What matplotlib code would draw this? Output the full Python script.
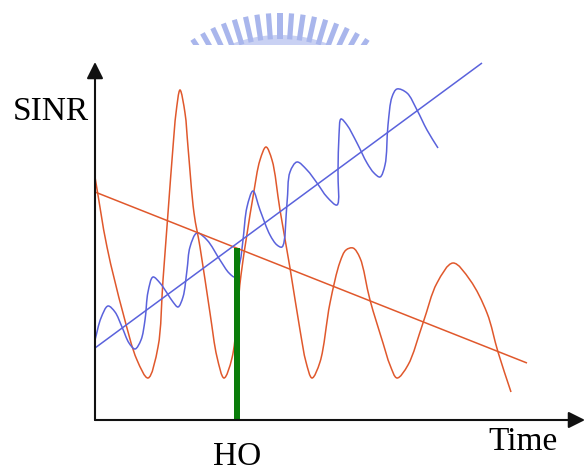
import numpy as np
import matplotlib
matplotlib.use("Agg")
import matplotlib.pyplot as plt
from matplotlib.path import Path
from matplotlib.patches import PathPatch, Rectangle, Wedge

# ---------------- data (time / SINR in chart units) -------------
red_wave_t = [0, 12, 28, 42, 53, 63, 68, 73, 78, 81, 85, 90, 93, 99, 105, 115, 122, 129,
              137, 146, 158, 165, 171, 177, 185, 195, 205, 211, 217, 225, 235, 245, 251,
              258, 265, 275, 288, 295, 302, 313, 328, 342, 358, 375, 392, 403, 416]
red_wave_s = [243, 173, 107, 60, 42, 73, 140, 207, 273, 307, 330, 307, 273, 207, 173, 107, 63, 42,
              62, 145, 223, 260, 273, 260, 210, 152, 90, 58, 42, 58, 117, 158, 170,
              172, 162, 120, 77, 55, 42, 55, 97, 137, 157, 140, 107, 68, 28]

blue_wave_t = [0, 6, 13, 20, 27, 34, 40, 46, 50, 53, 58, 65, 72, 78, 83, 88, 92, 95, 102,
               112, 125, 134, 140, 145, 148, 152, 158, 165, 175, 182, 187, 192, 195, 202,
               212, 222, 232, 242, 243, 244, 246, 252, 262, 272, 279, 285, 290, 293, 297,
               302, 312, 322, 332, 343]
blue_wave_s = [80, 102, 114, 108, 93, 77, 71, 80, 100, 128, 143, 137, 127, 118, 113, 123, 150, 173, 187,
               180, 160, 147, 143, 158, 180, 213, 229, 210, 185, 175, 173, 217, 248, 258,
               250, 237, 223, 215, 248, 285, 301, 295, 277, 257, 247, 243, 255, 295, 323,
               331, 327, 310, 290, 272]

red_trend_t = [0, 432]
red_trend_s = [228, 57]
blue_trend_t = [0, 387]
blue_trend_s = [72, 357]

ho_time = 142
ho_level = 172

RED = "#e0582c"
BLUE = "#5a62dc"
GREEN = "#0a7d0a"


def smooth_path(xs, ys, alpha=0.5):
    """Centripetal Catmull-Rom through the read points, drawn as cubic Bezier segments."""
    P = np.column_stack([xs, ys]).astype(float)
    P = np.vstack([2 * P[0] - P[1], P, 2 * P[-1] - P[-2]])
    verts = [P[1]]
    codes = [Path.MOVETO]
    for i in range(1, len(P) - 2):
        p0, p1, p2, p3 = P[i - 1], P[i], P[i + 1], P[i + 2]
        d01 = max(np.linalg.norm(p1 - p0) ** alpha, 1e-6)
        d12 = max(np.linalg.norm(p2 - p1) ** alpha, 1e-6)
        d23 = max(np.linalg.norm(p3 - p2) ** alpha, 1e-6)
        m1 = d12 * ((p1 - p0) / d01 - (p2 - p0) / (d01 + d12) + (p2 - p1) / d12)
        m2 = d12 * ((p2 - p1) / d12 - (p3 - p1) / (d12 + d23) + (p3 - p2) / d23)
        verts += [p1 + m1 / 3.0, p2 - m2 / 3.0, p2]
        codes += [Path.CURVE4] * 3
    return Path(verts, codes)


W, H = 585, 471
fig = plt.figure(figsize=(W / 100, H / 100), dpi=100)
fig.patch.set_facecolor("white")

# ---------------- watermark (decorative logo at top, cut off at its base) ----------------
deco = fig.add_axes([0, 0, 1, 1], zorder=0)
deco.set_xlim(0, W)
deco.set_ylim(H, 0)
deco.axis("off")
cx, cy, R = 280, 171, 158
deco.add_patch(Wedge((cx, cy), R - 22, 180 + 28, 360 - 28, width=12, facecolor="#c9d1f3",
                     edgecolor="none"))
for ang in np.arange(-33.6, 34, 4.2):
    a = np.deg2rad(ang)
    ux, uy = np.sin(a), -np.cos(a)
    px, py = -uy, ux
    r0, r1, hw = R - 26, R, 2.6
    pts = [(cx + ux * r0 + px * hw, cy + uy * r0 + py * hw),
           (cx + ux * r1 + px * hw, cy + uy * r1 + py * hw),
           (cx + ux * r1 - px * hw, cy + uy * r1 - py * hw),
           (cx + ux * r0 - px * hw, cy + uy * r0 - py * hw)]
    deco.add_patch(plt.Polygon(pts, closed=True, facecolor="#a9b6ec", edgecolor="none"))
deco.add_patch(Rectangle((0, 45), W, 80, facecolor="white", edgecolor="none", zorder=10))

# ---------------- main chart ----------------
ax = fig.add_axes([95 / W, (H - 420) / H, 488 / W, 358 / H], zorder=1)
ax.set_xlim(0, 488)
ax.set_ylim(0, 358)
ax.axis("off")
ax.patch.set_alpha(0)

ax.plot(red_trend_t, red_trend_s, color=RED, lw=1.1, solid_capstyle="butt")
ax.plot(blue_trend_t, blue_trend_s, color=BLUE, lw=1.1, solid_capstyle="butt")
ax.add_patch(PathPatch(smooth_path(red_wave_t, red_wave_s), facecolor="none",
                       edgecolor=RED, lw=1.1, transform=ax.transData))
ax.add_patch(PathPatch(smooth_path(blue_wave_t, blue_wave_s), facecolor="none",
                       edgecolor=BLUE, lw=1.1, transform=ax.transData))
ax.bar([ho_time], [ho_level], width=6, color=GREEN, zorder=3)

arrow_kw = dict(arrowstyle="-|>,head_length=0.4,head_width=0.2", mutation_scale=25,
                lw=1.5, color="#111111", shrinkA=0, shrinkB=0)
ax.annotate("", xy=(0, 358), xytext=(0, 0), arrowprops=arrow_kw, annotation_clip=False)
ax.annotate("", xy=(490, 0), xytext=(0, 0), arrowprops=arrow_kw, annotation_clip=False)

tf = dict(family="Liberation Serif", fontsize=24, color="black", clip_on=False)
ax.text(-82, 300, "SINR", ha="left", va="baseline", **tf)
ax.text(393, -30, "Time", ha="left", va="baseline", **tf)
ax.text(ho_time, -45, "HO", ha="center", va="baseline", **tf)

fig.savefig("out.png", dpi=100, facecolor="white")
